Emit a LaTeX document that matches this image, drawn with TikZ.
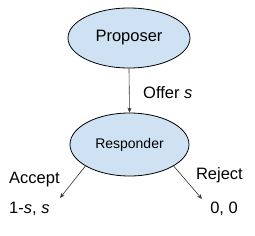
\documentclass[tikz,border=0pt]{standalone}
\usepackage{fontspec}
\setmainfont{Liberation Sans}
\usetikzlibrary{arrows.meta,shapes.geometric}
\definecolor{nodefill}{HTML}{CFE2F3}
\definecolor{edgecol}{HTML}{333333}
\begin{document}
\begin{tikzpicture}[x=1pt,y=-1pt,
  player/.style={ellipse,draw=black,line width=0.8pt,fill=nodefill,inner sep=0pt},
  conn/.style={draw=edgecol,line width=0.6pt,-{Stealth[length=5pt,width=4pt]}},
  lbl/.style={inner sep=0pt,text=black,font=\fontsize{16.5}{18}\selectfont}]
\useasboundingbox (0,0) rectangle (255,236);
\node[player,minimum width=122pt,minimum height=60pt,font=\fontsize{16.5}{18}\selectfont] (prop) at (129,38) {Proposer};
\node[player,minimum width=119pt,minimum height=63pt,font=\fontsize{14}{16}\selectfont] (resp) at (129.5,144.5) {Responder};
\coordinate (acc) at (60,198);
\coordinate (rej) at (202,199);
\draw[conn] (prop.south) -- (resp.north);
\draw[conn] (resp.-154) -- (acc);
\draw[conn] (resp.-26) -- (rej);
\node[lbl,anchor=west] (offer) at (143,93) {Offer \textit{s}};
\node[lbl,anchor=west] (accept) at (9,180) {Accept};
\node[lbl,anchor=east] (reject) at (243,175) {Reject};
\node[lbl,anchor=west] (pay1) at (9,209) {1-\textit{s}, \textit{s}};
\node[lbl,anchor=east] (pay2) at (238,209) {0, 0};
\end{tikzpicture}
\end{document}
